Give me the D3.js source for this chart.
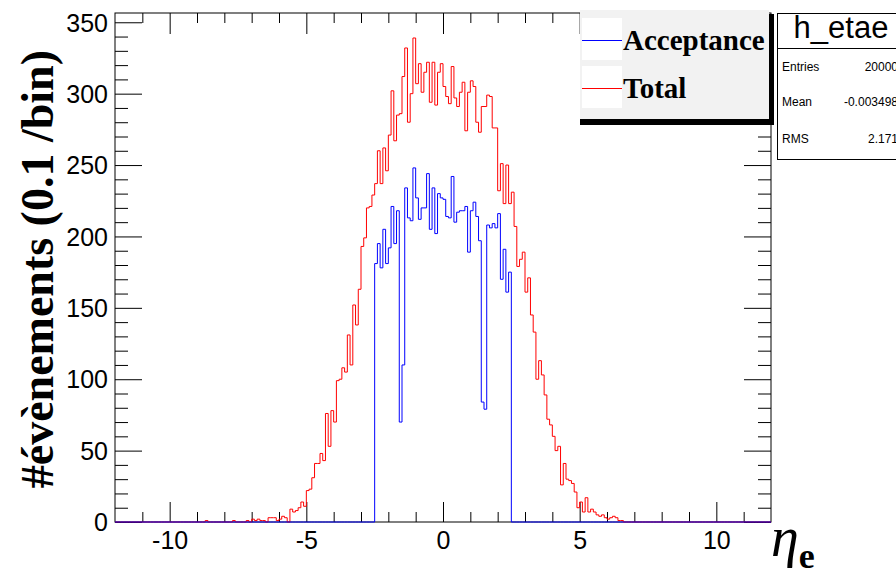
<!DOCTYPE html>
<html>
<head>
<meta charset="utf-8">
<script src="https://cdn.jsdelivr.net/npm/d3@7/dist/d3.min.js"></script>
<style>
  html, body { margin: 0; padding: 0; background: #ffffff; }
  svg { display: block; }
</style>
</head>
<body>
<svg id="chart" width="896" height="576"></svg>
<script>
// ---------------- data ----------------
const binWidth = 0.1;
const axisMin = -12, axisMax = 12;
// Total : counts per 0.1 bin, first bin starts at totalFirstBin
const totalFirstBin = -9.0;
const totalCounts = [
  0, 0, 0, 1, 0, 0, 0, 0, 0, 0,            // -9.0 .. -8.1
  0, 0, 0, 1, 0, 0, 0, 0, 1, 0,            // -8.0 .. -7.1
  2, 1, 2, 1, 1, 0, 3, 3, 3, 1,            // -7.0 .. -6.1
  2, 4, 3, 0, 9, 7, 8, 10, 14, 11,         // -6.0 .. -5.1
  22, 23, 31, 41, 41, 48, 43, 76, 53, 78,  // -5.0 .. -4.1
  70, 99, 100, 108, 105, 131, 110, 152, 138, 163, // -4.0 .. -3.1
  193, 199, 220, 221, 229, 237, 260, 237, 262, 246, // -3.0 .. -2.1
  271, 302, 267, 285, 286, 312, 332, 280, 300, 339, // -2.0 .. -1.1
  307, 321, 301, 315, 322, 294, 322, 292, 315, 321, // -1.0 .. -0.1
  305, 298, 293, 319, 297, 291, 301, 308, 274, 301, // 0.0 .. 0.9
  309, 305, 280, 273, 291, 291, 299, 298, 276, 276, // 1.0 .. 1.9
  232, 251, 223, 250, 223, 231, 207, 179, 184, 189, // 2.0 .. 2.9
  161, 171, 145, 133, 100, 113, 103, 89, 72, 68,    // 3.0 .. 3.9
  60, 50, 53, 26, 41, 30, 29, 27, 21, 10,           // 4.0 .. 4.9
  14, 7, 17, 7, 9, 7, 5, 4, 5, 3,                   // 5.0 .. 5.9
  2, 3, 4, 3, 1, 1, 0, 0, 0, 0                      // 6.0 .. 6.9
];
// Acceptance : counts per 0.1 bin, first bin starts at acceptanceFirstBin
const acceptanceFirstBin = -2.5;
const acceptanceCounts = [
  181, 195, 178, 205, 181, 192, 221, 195, 218, 70,  // -2.5 .. -1.6
  110, 234, 213, 211, 248, 227, 212, 220, 220, 244, // -1.5 .. -0.6
  205, 234, 202, 230, 227, 226, 214, 213, 242, 210, // -0.5 .. 0.4
  217, 218, 218, 221, 189, 218, 224, 214, 197, 84,  // 0.5 .. 1.4
  79, 208, 206, 209, 206, 216, 170, 191, 161, 175   // 1.5 .. 2.4
];
const xMajorTicks = [-10, -5, 0, 5, 10];
const xMinorTicks = [-11, -9, -8, -7, -6, -4, -3, -2, -1, 1, 2, 3, 4, 6, 7, 8, 9, 11];
const yMajorTicks = [0, 50, 100, 150, 200, 250, 300, 350];
const yMinorTicks = [10, 20, 30, 40, 60, 70, 80, 90, 110, 120, 130, 140, 160, 170, 180, 190,
                     210, 220, 230, 240, 260, 270, 280, 290, 310, 320, 330, 340];
const legendLabels = ["Acceptance", "Total"];
const seriesColors = ["#0000ff", "#ff0000"];
const statsTitle = "h_etae";
const statsNames = ["Entries", "Mean", "RMS"];
const statsValues = ["20000", "-0.003498", "2.171"];
const yTitle = "#évènements (0.1 /bin)";

// ---------------- layout ----------------
const svg = d3.select("#chart");
const L = 115, R = 771, T = 13, B = 522;
const x = d3.scaleLinear().domain([axisMin, axisMax]).range([L, R]);
const y = d3.scaleLinear().domain([0, 356.5]).range([B, T]);

function fullBins(first, counts) {
  const n = Math.round((axisMax - axisMin) / binWidth);
  const arr = new Array(n).fill(0);
  const off = Math.round((first - axisMin) / binWidth);
  counts.forEach((c, i) => { arr[off + i] = c; });
  return arr;
}
function stepPoints(arr) {
  const pts = [[axisMin, 0]];
  arr.forEach((v, i) => {
    const lo = axisMin + i * binWidth, hi = lo + binWidth;
    pts.push([lo, v], [hi, v]);
  });
  pts.push([axisMax, 0]);
  return pts;
}
const line = d3.line().x(d => x(d[0])).y(d => y(d[1]));

// frame
svg.append("rect").attr("x", L).attr("y", T).attr("width", R - L).attr("height", B - T)
  .attr("fill", "#ffffff").attr("stroke", "#000").attr("stroke-width", 1);

// axes
function styleAxis(g) {
  g.select(".domain").remove();
  g.selectAll(".tick line").attr("stroke", "#000");
}
const noLabel = () => "";
svg.append("g").attr("transform", `translate(0,${B})`)
  .call(d3.axisBottom(x).tickValues(xMinorTicks).tickSize(-10).tickFormat(noLabel)).call(styleAxis);
const xb = svg.append("g").attr("transform", `translate(0,${B})`)
  .call(d3.axisBottom(x).tickValues(xMajorTicks).tickSize(-20).tickPadding(30).tickFormat(d => String(d)))
  .call(styleAxis);
xb.selectAll("text").attr("font-family", "'Liberation Sans', Arial, sans-serif")
  .attr("font-size", 25).attr("fill", "#000").attr("dy", 0).attr("y", 27);
svg.append("g").attr("transform", `translate(0,${T})`)
  .call(d3.axisTop(x).tickValues(xMinorTicks).tickSize(-10).tickFormat(noLabel)).call(styleAxis);
svg.append("g").attr("transform", `translate(0,${T})`)
  .call(d3.axisTop(x).tickValues(xMajorTicks).tickSize(-21).tickFormat(noLabel)).call(styleAxis);

svg.append("g").attr("transform", `translate(${L},0)`)
  .call(d3.axisLeft(y).tickValues(yMinorTicks).tickSize(-13).tickFormat(noLabel)).call(styleAxis);
const yl = svg.append("g").attr("transform", `translate(${L},0)`)
  .call(d3.axisLeft(y).tickValues(yMajorTicks).tickSize(-27).tickFormat(d => String(d)))
  .call(styleAxis);
yl.selectAll("text").attr("font-family", "'Liberation Sans', Arial, sans-serif")
  .attr("font-size", 25).attr("fill", "#000").attr("x", -7).attr("dy", "0.35em");
svg.append("g").attr("transform", `translate(${R},0)`)
  .call(d3.axisRight(y).tickValues(yMinorTicks).tickSize(-13).tickFormat(noLabel)).call(styleAxis);
svg.append("g").attr("transform", `translate(${R},0)`)
  .call(d3.axisRight(y).tickValues(yMajorTicks).tickSize(-27).tickFormat(noLabel)).call(styleAxis);

// histograms: total first, acceptance on top (drawn over the baseline ticks)
svg.append("path").datum(stepPoints(fullBins(totalFirstBin, totalCounts)))
  .attr("d", line).attr("fill", "none").attr("stroke", seriesColors[1]).attr("stroke-width", 1);
svg.append("path").datum(stepPoints(fullBins(acceptanceFirstBin, acceptanceCounts)))
  .attr("d", line).attr("fill", "none").attr("stroke", seriesColors[0]).attr("stroke-width", 1);

// y title
svg.append("text")
  .attr("transform", "translate(53,50) rotate(-90)")
  .attr("text-anchor", "end")
  .attr("font-family", "'Liberation Serif', 'Times New Roman', serif")
  .attr("font-weight", "bold").attr("font-size", 46).attr("fill", "#000")
  .text(yTitle);

// x title: eta with bold subscript e
const xt = svg.append("text").attr("x", 771).attr("y", 556)
  .attr("font-family", "'Liberation Serif', 'Times New Roman', serif").attr("fill", "#000");
xt.append("tspan").attr("font-style", "italic").attr("font-size", 56).text("η");
xt.append("tspan").attr("font-weight", "bold").attr("font-size", 36).attr("dy", 12).text("e");

// legend
const lg = svg.append("g");
lg.append("rect").attr("x", 580).attr("y", 119).attr("width", 194).attr("height", 6).attr("fill", "#000");
lg.append("rect").attr("x", 769).attr("y", 14).attr("width", 5).attr("height", 111).attr("fill", "#000");
lg.append("rect").attr("x", 580).attr("y", 10).attr("width", 189).attr("height", 109).attr("fill", "#f2f2f2");
legendLabels.forEach((lab, i) => {
  const y0 = 18 + i * 48;
  lg.append("rect").attr("x", 582).attr("y", y0).attr("width", 40).attr("height", 42).attr("fill", "#ffffff");
  lg.append("line").attr("x1", 582).attr("x2", 622).attr("y1", y0 + 22.5).attr("y2", y0 + 22.5)
    .attr("stroke", seriesColors[i]).attr("stroke-width", 1);
  lg.append("text").attr("x", 623).attr("y", y0 + 32)
    .attr("font-family", "'Liberation Serif', 'Times New Roman', serif")
    .attr("font-weight", "bold").attr("font-size", 29).attr("fill", "#000").text(lab);
});

// stats box (its right part lies past the page edge, as in the reference)
const sb = svg.append("g");
sb.append("rect").attr("x", 777.5).attr("y", 13.5).attr("width", 140).attr("height", 146)
  .attr("fill", "#ffffff").attr("stroke", "#000").attr("stroke-width", 1);
sb.append("line").attr("x1", 777.5).attr("x2", 896).attr("y1", 48.5).attr("y2", 48.5)
  .attr("stroke", "#000").attr("stroke-width", 1);
sb.append("text").attr("x", 841).attr("y", 38).attr("text-anchor", "middle")
  .attr("font-family", "'Liberation Sans', Arial, sans-serif").attr("font-size", 31).attr("fill", "#000")
  .text(statsTitle);
statsNames.forEach((nm, i) => {
  const yy = [71, 106, 143][i];
  sb.append("text").attr("x", 782).attr("y", yy)
    .attr("font-family", "'Liberation Sans', Arial, sans-serif").attr("font-size", 12).attr("fill", "#000").text(nm);
  sb.append("text").attr("x", 898).attr("y", yy).attr("text-anchor", "end")
    .attr("font-family", "'Liberation Sans', Arial, sans-serif").attr("font-size", 12).attr("fill", "#000").text(statsValues[i]);
});
</script>
</body>
</html>
